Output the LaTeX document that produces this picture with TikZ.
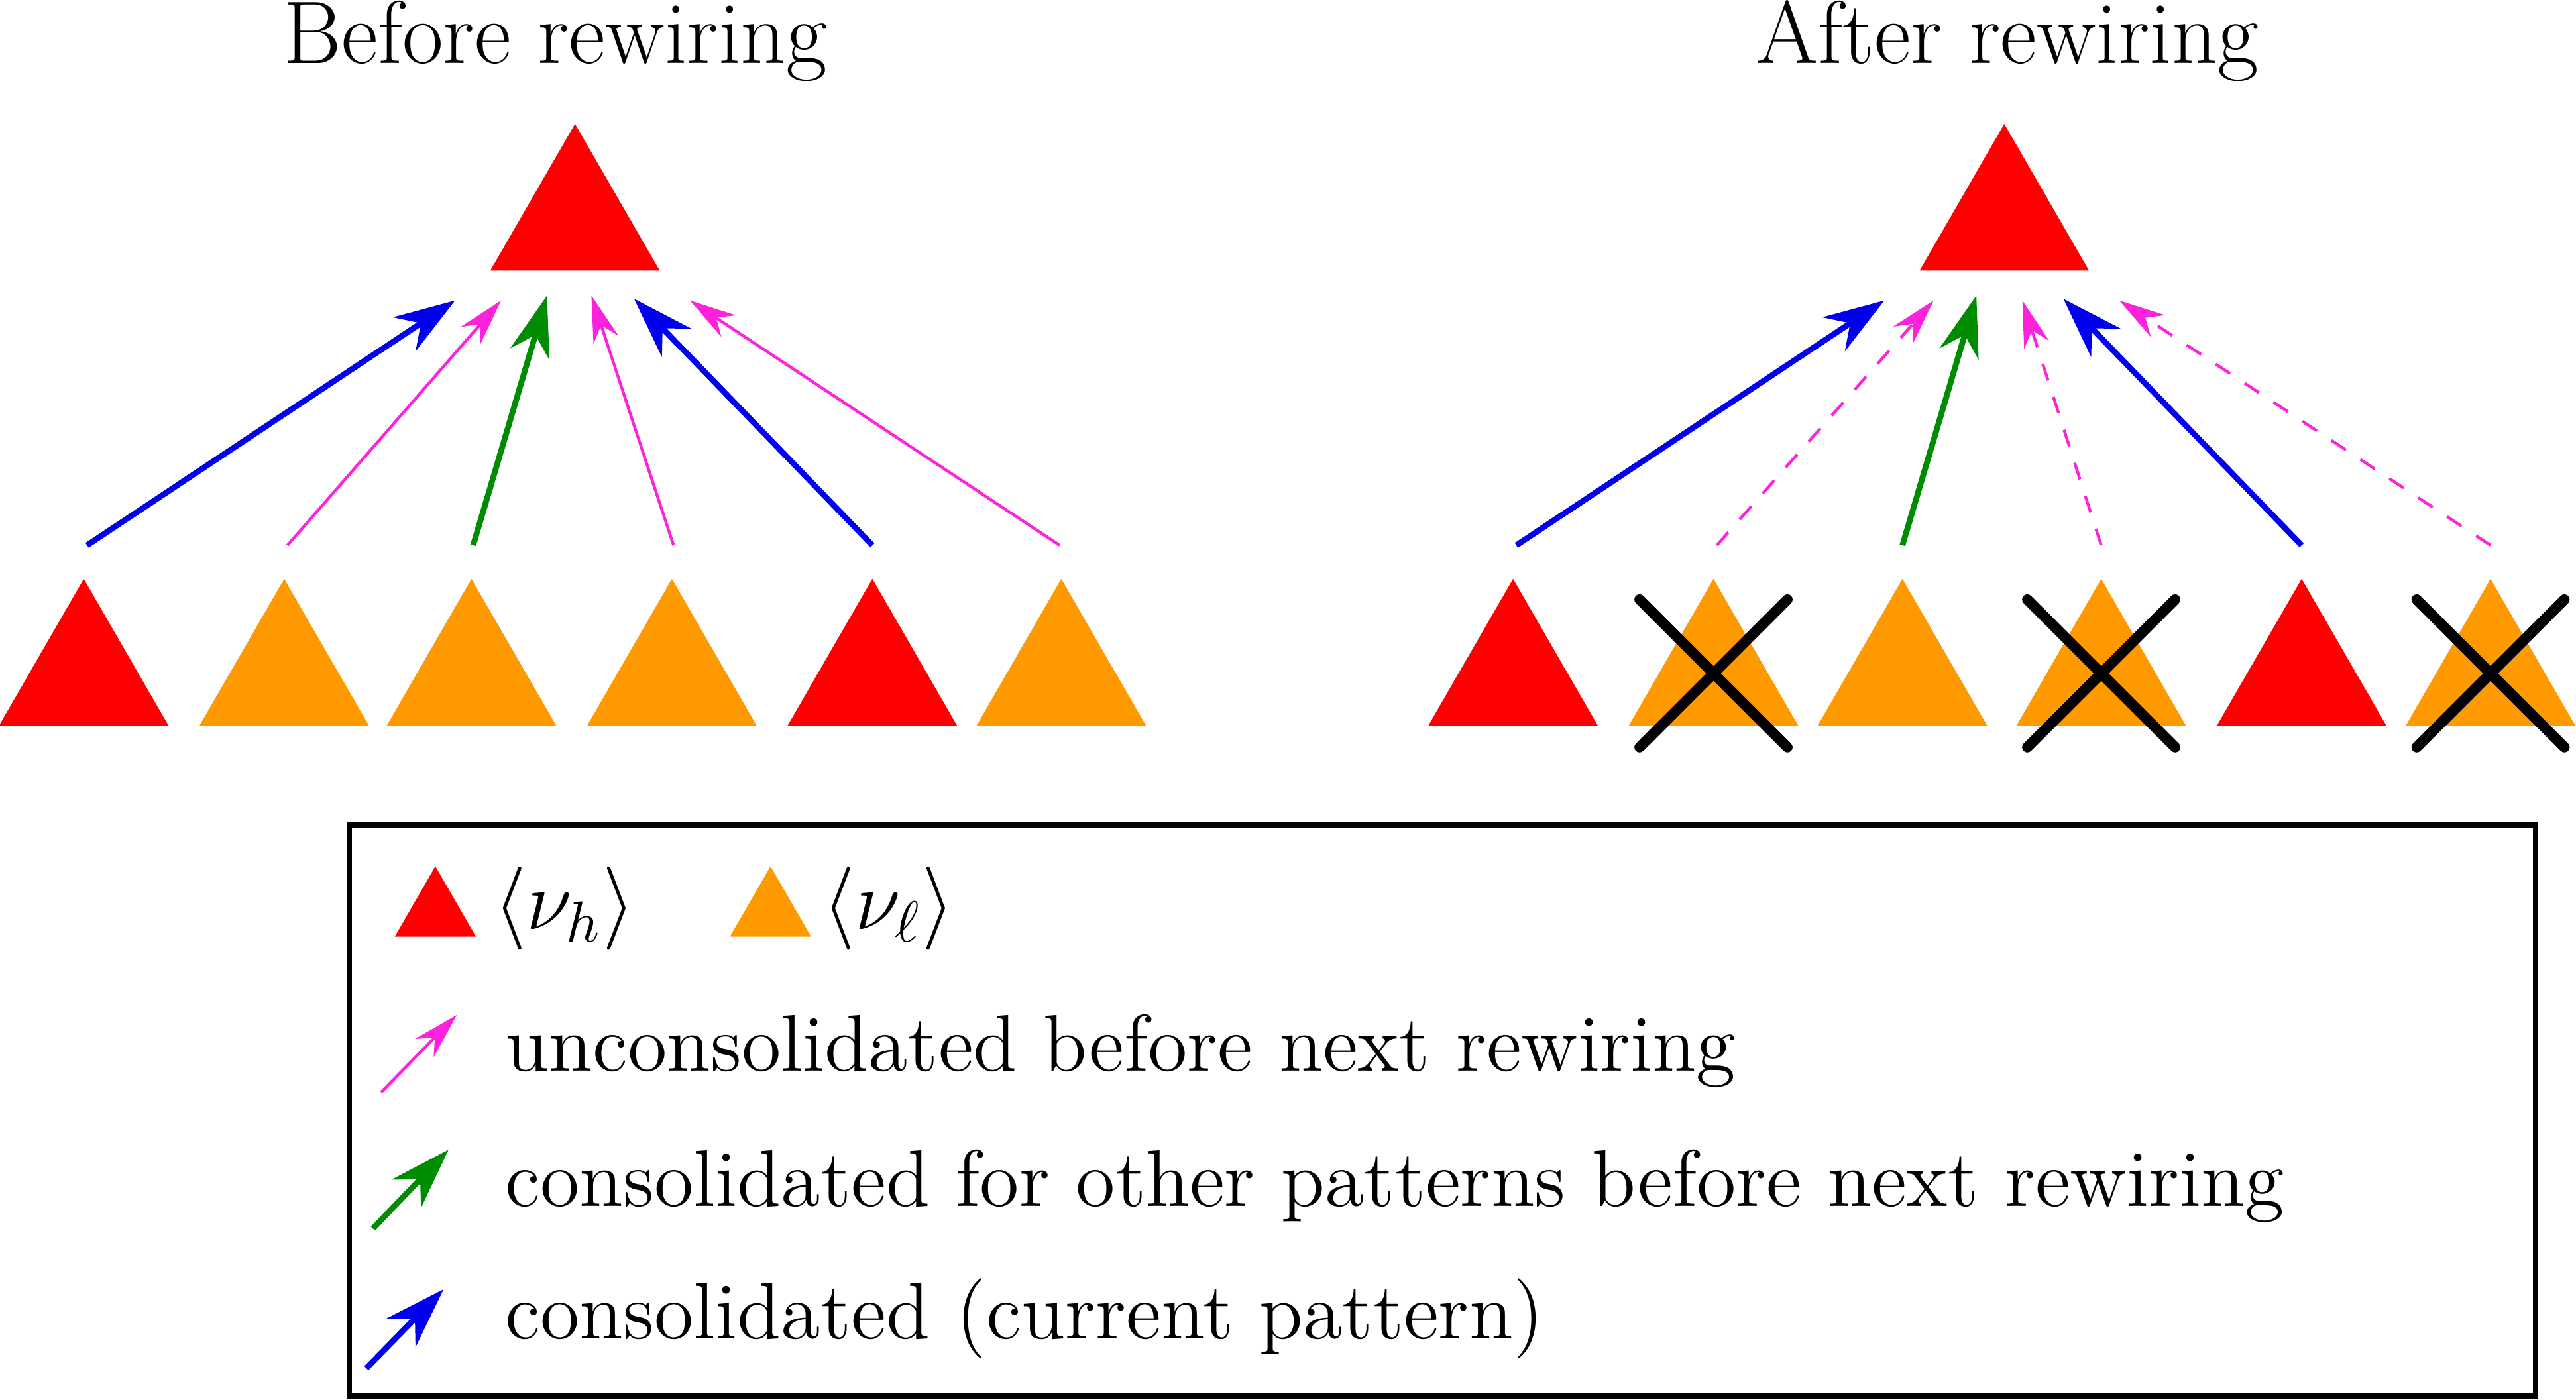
\documentclass[tikz,border=0pt]{standalone}
\usepackage{amsmath}
\usetikzlibrary{shapes.geometric,arrows.meta}
\definecolor{tred}{HTML}{FF0000}
\definecolor{torange}{HTML}{FF9900}
\definecolor{tmag}{HTML}{FF22DD}
\definecolor{tgreen}{HTML}{008C00}
\definecolor{tblue}{HTML}{0000EE}
\tikzset{
 tri/.style={regular polygon,regular polygon sides=3,minimum size=1.19cm,inner sep=0pt,fill=#1},
 ltri/.style={regular polygon,regular polygon sides=3,minimum size=0.57cm,inner sep=0pt,fill=#1},
 thinarr/.style={tmag,line width=0.5pt,-{Stealth[length=8pt,width=4.5pt]}},
 thickarr/.style={#1,line width=1pt,-{Stealth[length=10.5pt,width=7pt]}},
 cross/.style={black,line width=1.8pt,line cap=round},
 lbl/.style={font=\fontsize{13.9}{17}\selectfont,anchor=west,inner sep=0pt},
 ttl/.style={font=\fontsize{15.4}{19}\selectfont,inner sep=0pt}
}
\begin{document}
\begin{tikzpicture}[x=0.01cm,y=-0.01cm]
\useasboundingbox (0,0) rectangle (1568,852);
\node[ttl] (t1) at (338,25) {Before rewiring};
\node[ttl] (t2) at (1222,25) {After rewiring};
% top triangles
\node[tri=tred] (top1) at (350,135) {};
\node[tri=tred] (top2) at (1220,135) {};
% bottom rows
\foreach \n/\x/\c in {a/51/tred,b/173/torange,c/287/torange,d/409/torange,e/531/tred,f/646/torange,
 g/921/tred,h/1043/torange,i/1158/torange,j/1279/torange,k/1401/tred,l/1516/torange}
 \node[tri=\c] (\n) at (\x,412) {};
% arrow endpoints
\foreach \n/\x in {a/53,b/175,c/288,d/410,e/531,f/645,g/923,h/1045,i/1158,j/1279,k/1401,l/1516}
 \coordinate (s\n) at (\x,332);
\foreach \n/\x/\y in {a/277/183,b/305/183,c/333/180,d/360/180,e/386/182,f/420/183,
 g/1147/183,h/1177/183,i/1203/180,j/1231/183,k/1256/182,l/1290/183}
 \coordinate (e\n) at (\x,\y);
\draw[thickarr=tblue] (sa) -- (ea);
\draw[thinarr] (sb) -- (eb);
\draw[thickarr=tgreen] (sc) -- (ec);
\draw[thinarr] (sd) -- (ed);
\draw[thickarr=tblue] (se) -- (ee);
\draw[thinarr] (sf) -- (ef);
\draw[thickarr=tblue] (sg) -- (eg);
\draw[thinarr,dashed] (sh) -- (eh);
\draw[thickarr=tgreen] (si) -- (ei);
\draw[thinarr,dashed] (sj) -- (ej);
\draw[thickarr=tblue] (sk) -- (ek);
\draw[thinarr,dashed] (sl) -- (el);
% crosses
\foreach \n in {h,j,l}{
 \draw[cross] ([shift={(-45,-47)}]\n.center) -- ([shift={(45,43)}]\n.center);
 \draw[cross] ([shift={(45,-47)}]\n.center) -- ([shift={(-45,43)}]\n.center);
}
% legend
\node[draw=black,line width=1pt,minimum width=13.3cm,minimum height=3.48cm,inner sep=0pt] (box) at (878,676) {};
\node[ltri=tred] (lr) at (265,556) {};
\node[lbl] (lrt) at (300,553) {$\langle \nu_h\rangle$};
\node[ltri=torange] (lo) at (469,556) {};
\node[lbl] (lot) at (500,553) {$\langle \nu_\ell\rangle$};
\coordinate (m1) at (232,665); \coordinate (m2) at (278,618);
\draw[thinarr] (m1) -- (m2);
\node[lbl] (l1) at (307,640) {unconsolidated before next rewiring};
\coordinate (g1) at (227,748); \coordinate (g2) at (273,700);
\draw[thickarr=tgreen] (g1) -- (g2);
\node[lbl] (l2) at (307,722) {consolidated for other patterns before next rewiring};
\coordinate (b1) at (223,833); \coordinate (b2) at (270,785);
\draw[thickarr=tblue] (b1) -- (b2);
\node[lbl] (l3) at (307,803) {consolidated (current pattern)};
\end{tikzpicture}
\end{document}
